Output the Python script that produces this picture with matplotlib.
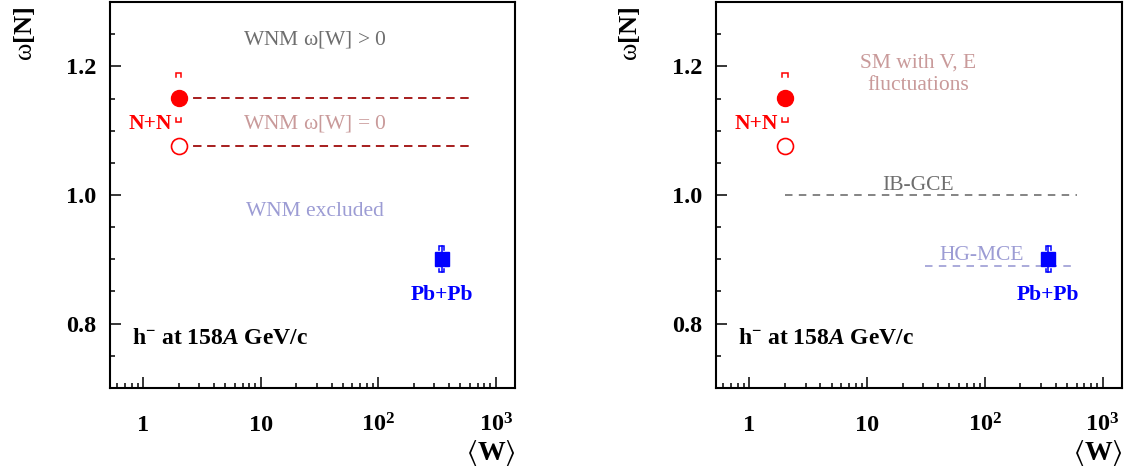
import matplotlib
matplotlib.use("Agg")
import matplotlib.pyplot as plt
from matplotlib.ticker import FixedLocator, MultipleLocator, LogLocator, NullFormatter, FixedFormatter

plt.rcParams['font.family'] = ['Liberation Serif', 'DejaVu Serif']
plt.rcParams['mathtext.fontset'] = 'custom'
plt.rcParams['mathtext.rm'] = 'Liberation Serif'
plt.rcParams['mathtext.it'] = 'Liberation Serif:italic'
plt.rcParams['mathtext.bf'] = 'Liberation Serif:bold'
if 'mathtext.bfit' in plt.rcParams:
    plt.rcParams['mathtext.bfit'] = 'Liberation Serif:italic:bold'
plt.rcParams['mathtext.fallback'] = 'stix'
plt.rcParams['mathtext.default'] = 'rm'

# ---- data ----
nn_w = [2.0]
nn_omega_full = [1.151]
nn_omega_open = [1.076]
nn_sys_up = [0.038]
nn_sys_dn = [0.037]
pb_w = [346.0]
pb_omega = [0.900]
pb_sys = [0.020]
pb_stat = [0.020]

wnm_lines = [1.151, 1.076]
wnm_line_x = [2.0, 600.0]
ib_gce = [1.0]
ib_gce_x = [2.0, 600.0]
hg_mce = [0.889]
hg_mce_x = [31.0, 600.0]

xticks_major = [1, 10, 100, 1000]
xtick_labels = ['1', '10', r'10$^{\mathbf{2}}$', r'10$^{\mathbf{3}}$']
yticks_major = [0.8, 1.0, 1.2]
ytick_labels = ['0.8', '1.0', '1.2']

RED = '#ff0000'
BLUE = '#0000ff'
DRED = '#a31515'
ROSE = '#c99a9a'
LAV = '#9c9cd4'
GREY = '#6e6e6e'

W, H = 1131, 468
fig = plt.figure(figsize=(W / 100, H / 100), dpi=100)
ax1 = fig.add_axes([110 / W, 1 - 388 / H, 405 / W, 386 / H])
ax2 = fig.add_axes([716 / W, 1 - 388 / H, 406 / W, 386 / H])


def bracket(ax, x, y, sign, color, f=1.055, leg=0.005):
    # sign=+1 : upper bracket (legs down); sign=-1 : lower bracket (legs up)
    xs = [x / f, x / f, x * f, x * f]
    ys = [y - sign * leg, y, y, y - sign * leg]
    ax.plot(xs, ys, color=color, lw=1.1, zorder=4, solid_joinstyle='miter')


def style(ax):
    ax.set_xscale('log')
    ax.set_xlim(0.52, 1460)
    ax.set_ylim(0.7, 1.3)
    ax.xaxis.set_major_locator(FixedLocator(xticks_major))
    ax.xaxis.set_major_formatter(FixedFormatter(xtick_labels))
    ax.xaxis.set_minor_locator(LogLocator(base=10, subs=[2, 3, 4, 5, 6, 7, 8, 9], numticks=20))
    ax.xaxis.set_minor_formatter(NullFormatter())
    ax.yaxis.set_major_locator(FixedLocator(yticks_major))
    ax.yaxis.set_major_formatter(FixedFormatter(ytick_labels))
    ax.yaxis.set_minor_locator(MultipleLocator(0.05))
    for s in ax.spines.values():
        s.set_linewidth(1.5)
    ax.tick_params(which='both', direction='in', top=False, right=False, width=1.1)
    ax.tick_params(which='major', length=8)
    ax.tick_params(which='minor', length=3.8)
    ax.tick_params(axis='y', which='major', pad=10, labelsize=17.5)
    ax.tick_params(axis='x', which='major', pad=31, labelsize=17.5)
    for lab in ax.get_xticklabels() + ax.get_yticklabels():
        lab.set_fontweight('bold')
    for lab in ax.get_xticklabels():
        lab.set_va('baseline')
    ax.text(-0.212, 0.918, r'$\mathrm{\omega}\mathbf{[N]}$', transform=ax.transAxes,
            rotation=90, ha='center', va='center', fontsize=19)
    ax.text(1.003, -0.187, r'$\langle\mathbf{W}\rangle$', transform=ax.transAxes,
            ha='right', va='baseline', fontsize=20, fontweight='bold')
    ax.text(0.054, 0.128, r'h$^{\mathbf{-}}$ at 158$\mathbfit{A}$ GeV/c', transform=ax.transAxes,
            ha='left', va='center', fontsize=17, fontweight='bold')


def points(ax):
    x = nn_w[0]
    ax.plot(nn_w, nn_omega_full, 'o', ms=11.5, color=RED, zorder=5)
    ax.plot(nn_w, nn_omega_open, 'o', ms=11.5, mfc='white', mec=RED, mew=1.2, zorder=5)
    bracket(ax, x, nn_omega_full[0] + nn_sys_up[0], +1, RED)
    bracket(ax, x, nn_omega_full[0] - nn_sys_dn[0], -1, RED)
    ax.text(x / 1.15, 1.111, 'N+N', color=RED, fontsize=15.5, fontweight='bold',
            ha='right', va='center')
    xp = pb_w[0]
    ax.plot([xp, xp], [pb_omega[0] - pb_stat[0], pb_omega[0] + pb_stat[0]], color=BLUE, lw=1.1, zorder=4)
    bracket(ax, xp, pb_omega[0] + pb_sys[0], +1, BLUE)
    bracket(ax, xp, pb_omega[0] - pb_sys[0], -1, BLUE)
    ax.plot(pb_w, pb_omega, 's', ms=10.5, color=BLUE, zorder=5)
    ax.text(xp, 0.845, 'Pb+Pb', color=BLUE, fontsize=15.5, fontweight='bold',
            ha='center', va='center')


# ---- left panel ----
style(ax1)
for yv in wnm_lines:
    ax1.plot(wnm_line_x, [yv, yv], color=DRED, lw=1.35, ls=(0, (4.5, 3)), zorder=3)
points(ax1)
ax1.text(29, 1.241, r'WNM $\omega$[W] > 0', color=GREY, fontsize=15.5, ha='center', va='center')
ax1.text(29, 1.111, r'WNM $\omega$[W] = 0', color=ROSE, fontsize=15.5, ha='center', va='center')
ax1.text(29, 0.974, 'WNM excluded', color=LAV, fontsize=15.5, ha='center', va='center')

# ---- right panel ----
style(ax2)
ax2.plot(ib_gce_x, ib_gce * 2, color='#707070', lw=1.2, ls=(0, (4.5, 3.8)), zorder=3)
ax2.plot(hg_mce_x, hg_mce * 2, color=LAV, lw=1.2, ls=(0, (4.5, 3.8)), zorder=3)
points(ax2)
ax2.text(27, 1.188, 'SM with V, E\nfluctuations', color=ROSE, fontsize=15.5,
         ha='center', va='center', linespacing=1.25)
ax2.text(27, 1.014, 'IB-GCE', color=GREY, fontsize=15.5, ha='center', va='center')
ax2.text(94, 0.906, 'HG-MCE', color=LAV, fontsize=15.5, ha='center', va='center')

fig.savefig('out.png', dpi=100)
